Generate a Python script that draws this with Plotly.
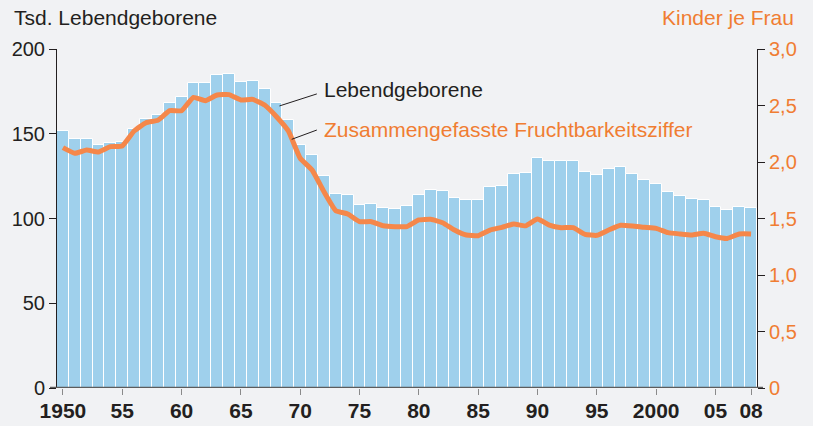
import plotly.graph_objects as go

years = list(range(1950, 2009))
births = [151.6, 146.9, 146.7, 143.4, 144.7, 145.1, 152.8, 158.5, 161.1, 168.0,
          171.5, 179.8, 179.9, 184.7, 185.2, 180.7, 181.3, 176.2, 168.3, 158.1,
          143.4, 137.3, 124.9, 114.3, 113.7, 108.0, 108.7, 106.4, 105.6, 107.4,
          114.1, 116.8, 116.2, 112.3, 110.9, 111.1, 118.4, 119.4, 126.1, 126.6,
          135.8, 134.1, 133.7, 133.7, 127.6, 125.9, 129.2, 130.4, 126.4, 122.9,
          120.5, 115.8, 113.5, 111.3, 111.1, 107.0, 104.8, 106.6, 106.0]
tfr = [2.127, 2.077, 2.106, 2.088, 2.136, 2.142, 2.274, 2.348, 2.369, 2.454,
       2.454, 2.572, 2.543, 2.593, 2.596, 2.549, 2.554, 2.504, 2.401, 2.275,
       2.033, 1.929, 1.737, 1.569, 1.540, 1.472, 1.472, 1.436, 1.428, 1.428,
       1.487, 1.493, 1.463, 1.398, 1.354, 1.348, 1.398, 1.422, 1.451, 1.435,
       1.496, 1.442, 1.419, 1.419, 1.360, 1.351, 1.398, 1.440, 1.434, 1.422,
       1.413, 1.375, 1.363, 1.354, 1.369, 1.339, 1.324, 1.363, 1.363]

x_tickvals = [1950, 1955, 1960, 1965, 1970, 1975, 1980, 1985, 1990, 1995, 2000, 2005, 2008]
x_ticktext = ["1950", "55", "60", "65", "70", "75", "80", "85", "90", "95", "2000", "05", "08"]
y_tickvals = [0, 50, 100, 150, 200]
y2_tickvals = [0, 0.5, 1.0, 1.5, 2.0, 2.5, 3.0]
y2_ticktext = ["0", "0,5", "1,0", "1,5", "2,0", "2,5", "3,0"]

BG = "#f1f2f4"
BLUE = "#9fd0ec"
ORANGE_LINE = "#f5874a"
ORANGE_TEXT = "#f07d32"
DARK = "#231f20"
FONT = "Liberation Sans, Arial, sans-serif"

L, R, T, B = 57, 56, 49, 38
PW = 813 - L - R
PH = 426 - T - B

fig = go.Figure()
fig.add_trace(go.Bar(x=years, y=births, marker=dict(color=BLUE, line=dict(color="white", width=1)),
                     yaxis="y", showlegend=False, hoverinfo="skip"))
fig.add_trace(go.Scatter(x=years, y=tfr, mode="lines",
                         line=dict(color=ORANGE_LINE, width=5, shape="spline", smoothing=0.4),
                         yaxis="y2", showlegend=False, hoverinfo="skip"))

fig.update_layout(
    width=813, height=426,
    margin=dict(l=L, r=R, t=T, b=B, autoexpand=False),
    paper_bgcolor=BG, plot_bgcolor=BG,
    bargap=0,
    font=dict(family=FONT, size=20, color=DARK),
    xaxis=dict(range=[1949.5, 2008.5], tickvals=x_tickvals, ticktext=x_ticktext, automargin=False,
               ticks="outside", ticklen=6, tickcolor="#8a8a8a", tickwidth=1, ticklabelstandoff=-2,
               showgrid=False, zeroline=False, showline=False,
               tickfont=dict(family=FONT, size=21, color=DARK, weight="bold")),
    yaxis=dict(range=[0, 200], tickvals=y_tickvals, ticks="outside", ticklen=7, tickcolor=DARK, automargin=False,
               showgrid=False, zeroline=False, showline=True, linecolor=DARK, linewidth=1,
               tickfont=dict(size=20, color=DARK)),
    yaxis2=dict(range=[0, 3], overlaying="y", side="right", tickvals=y2_tickvals, ticktext=y2_ticktext,
                ticks="outside", ticklen=7, tickcolor=DARK, automargin=False,
                showgrid=False, zeroline=False, showline=True, linecolor=DARK, linewidth=1,
                tickfont=dict(size=20, color=ORANGE_TEXT)),
)

# bottom axis line
fig.add_shape(type="line", xref="paper", yref="y", x0=-7/PW, x1=1 + 6/PW, y0=0, y1=0,
              line=dict(color="#5c5c5c", width=2.5))

# leader lines
fig.add_shape(type="line", xref="x", yref="y", x0=1968.25, y0=166.4, x1=1971.4, y1=173.5,
              line=dict(color=DARK, width=1))
fig.add_shape(type="line", xref="x", yref="y", x0=1969.28, y0=146.7, x1=1971.4, y1=152.2,
              line=dict(color=DARK, width=1))

fig.add_annotation(x=1971.8, y=176.4, xref="x", yref="y", text="Lebendgeborene", showarrow=False,
                   xanchor="left", yanchor="middle", font=dict(size=21, color=DARK))
fig.add_annotation(x=1971.8, y=152.8, xref="x", yref="y", text="Zusammengefasste Fruchtbarkeitsziffer",
                   showarrow=False, xanchor="left", yanchor="middle", font=dict(size=21, color=ORANGE_TEXT))

fig.add_annotation(x=(12 - L) / PW, y=1 + (T - 18) / PH, xref="paper", yref="paper",
                   text="Tsd. Lebendgeborene", showarrow=False, xanchor="left", yanchor="middle",
                   font=dict(size=21, color=DARK))
fig.add_annotation(x=1 + (796 - (813 - R)) / PW, y=1 + (T - 18) / PH, xref="paper", yref="paper",
                   text="Kinder je Frau", showarrow=False, xanchor="right", yanchor="middle",
                   font=dict(size=21, color=ORANGE_TEXT))

fig.write_html("out.html", config={"displayModeBar": False},
               post_script="document.body.style.margin='0';document.body.style.background='%s';"
                           "document.documentElement.style.overflow='hidden';" % BG)
